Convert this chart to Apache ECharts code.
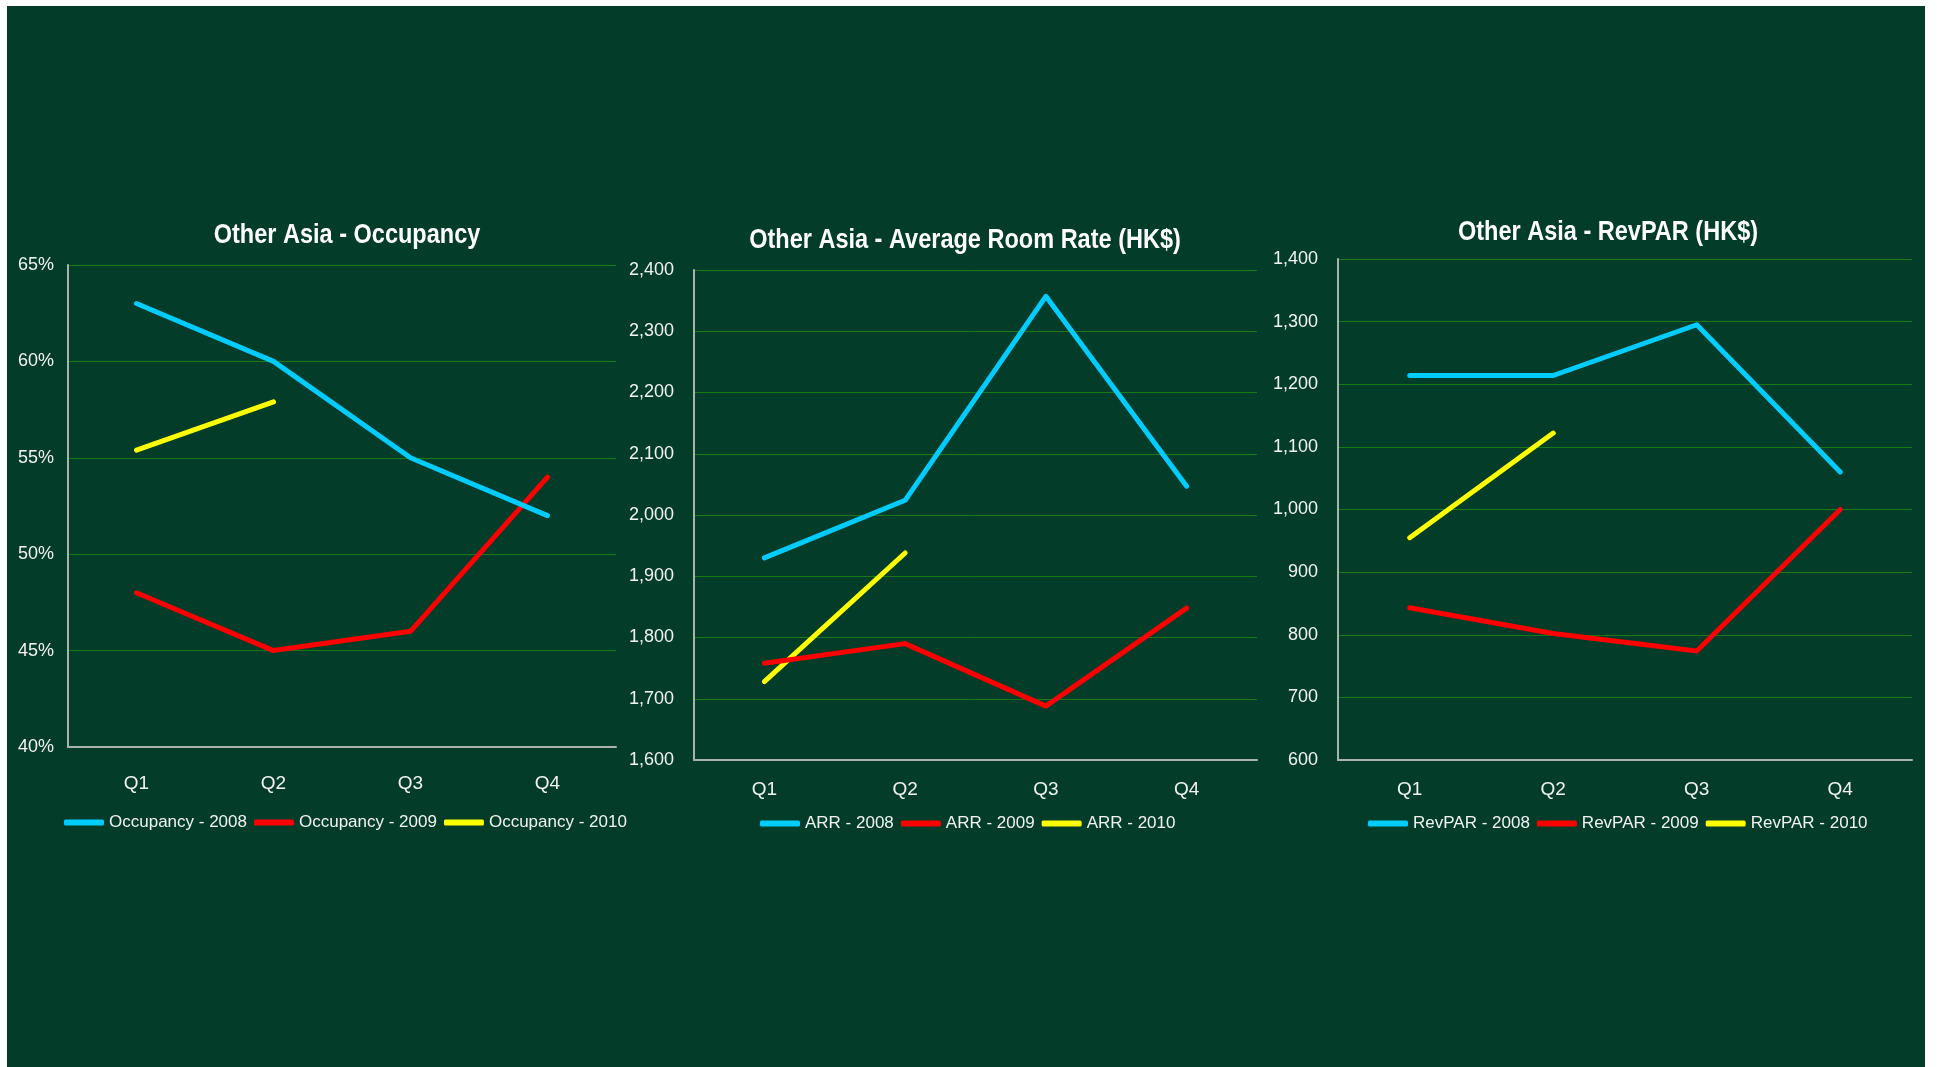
<!DOCTYPE html>
<html>
<head>
<meta charset="utf-8">
<style>
  html, body { margin: 0; padding: 0; background: #ffffff; }
  #frame { position: absolute; left: 7px; top: 6px; width: 1918px; height: 1061px; background: #033c29; }
  #chart { position: absolute; left: 0; top: 0; width: 1937px; height: 1067px; }
</style>
<script src="https://cdn.jsdelivr.net/npm/echarts@6/dist/echarts.min.js"></script>
</head>
<body>
<div id="frame"></div>
<div id="chart"></div>
<script>
// Quarterly hotel metrics, Other Asia
const quarters = ['Q1', 'Q2', 'Q3', 'Q4'];

const occ2008 = [63, 60, 55, 52];
const occ2009 = [48, 45, 46, 54];
const occ2010 = [55.4, 57.9];

const arr2008 = [1930, 2024, 2357, 2047];
const arr2009 = [1758, 1790, 1688, 1848];
const arr2010 = [1728, 1938];

const rev2008 = [1214, 1214, 1295, 1060];
const rev2009 = [843, 802, 774, 1000];
const rev2010 = [955, 1122];

const titles = [
  'Other Asia - Occupancy',
  'Other Asia - Average Room Rate (HK$)',
  'Other Asia - RevPAR (HK$)'
];
const seriesNames = [
  ['Occupancy - 2008', 'Occupancy - 2009', 'Occupancy - 2010'],
  ['ARR - 2008', 'ARR - 2009', 'ARR - 2010'],
  ['RevPAR - 2008', 'RevPAR - 2009', 'RevPAR - 2010']
];
const yRanges = [
  { min: 40, max: 65, interval: 5 },
  { min: 1600, max: 2400, interval: 100 },
  { min: 600, max: 1400, interval: 100 }
];
const seriesData = [
  [occ2008, occ2009, occ2010],
  [arr2008, arr2009, arr2010],
  [rev2008, rev2009, rev2010]
];

const COLORS = ['#00ccff', '#ff0000', '#ffff00'];
const FONT = '"Liberation Sans", Arial, sans-serif';
const TEXT = '#f2f2f2';

// panel geometry (plot rectangles)
const grids = [
  { left: 68, top: 265, width: 548, height: 482 },
  { left: 694, top: 270, width: 563, height: 490 },
  { left: 1338, top: 259, width: 574, height: 501 }
];
const titlePos = [
  { x: 347, y: 235 },
  { x: 965, y: 240 },
  { x: 1608, y: 232 }
];
const legendCenter = [
  { x: 345, y: 822 },
  { x: 968, y: 823 },
  { x: 1618, y: 823 }
];
const yLabelMargin = [14, 20, 20];
const xLabelMargin = [27, 20, 20];

const LEGEND_FONT = 17;
const LEGEND_ICON_W = 40;
const LEGEND_GAP = 7;

// measure a legend row so it can be centred under its panel
const measureCtx = document.createElement('canvas').getContext('2d');
measureCtx.font = LEGEND_FONT + 'px ' + FONT;
function legendWidth(names) {
  let w = 0;
  names.forEach((n, i) => {
    w += LEGEND_ICON_W + 5 + measureCtx.measureText(n).width;
    if (i > 0) w += LEGEND_GAP;
  });
  return w;
}

const fmtComma = v => v.toLocaleString('en-US');
const yFormatters = [v => v + '%', fmtComma, fmtComma];

const option = {
  animation: false,
  backgroundColor: 'transparent',
  // panel titles drawn in a narrow bold face
  graphic: titles.map((t, i) => ({
    type: 'text',
    x: titlePos[i].x,
    y: titlePos[i].y,
    scaleX: 0.84,
    style: {
      text: t,
      fill: '#ffffff',
      font: 'bold 28px ' + FONT,
      align: 'center',
      verticalAlign: 'middle',
      textAlign: 'center',
      textVerticalAlign: 'middle'
    }
  })),
  legend: seriesNames.map((names, i) => ({
    data: names,
    left: Math.round(legendCenter[i].x - legendWidth(names) / 2),
    top: legendCenter[i].y - 8,
    orient: 'horizontal',
    icon: 'roundRect',
    itemWidth: LEGEND_ICON_W,
    itemHeight: 6,
    itemGap: LEGEND_GAP,
    padding: 0,
    textStyle: { color: TEXT, fontFamily: FONT, fontSize: LEGEND_FONT }
  })),
  grid: grids.map(g => Object.assign({ containLabel: false }, g)),
  xAxis: grids.map((g, i) => ({
    type: 'category',
    gridIndex: i,
    data: quarters,
    boundaryGap: true,
    axisLine: { show: true, lineStyle: { color: '#a9b3ab', width: 2 } },
    axisTick: { show: false },
    splitLine: { show: false },
    axisLabel: { color: TEXT, fontFamily: FONT, fontSize: 19, margin: xLabelMargin[i] }
  })),
  yAxis: grids.map((g, i) => ({
    type: 'value',
    gridIndex: i,
    min: yRanges[i].min,
    max: yRanges[i].max,
    interval: yRanges[i].interval,
    axisLine: { show: true, lineStyle: { color: '#a9b3ab', width: 2 } },
    axisTick: { show: false },
    splitLine: { show: true, lineStyle: { color: '#137a17', width: 1 } },
    axisLabel: {
      color: TEXT, fontFamily: FONT, fontSize: 18, margin: yLabelMargin[i],
      formatter: yFormatters[i]
    }
  })),
  series: []
};

seriesData.forEach((group, gi) => {
  group.forEach((values, si) => {
    option.series.push({
      type: 'line',
      name: seriesNames[gi][si],
      xAxisIndex: gi,
      yAxisIndex: gi,
      data: values,
      showSymbol: false,
      symbol: 'none',
      color: COLORS[si],
      lineStyle: { color: COLORS[si], width: 5, cap: 'round', join: 'round' },
      z: 3 - si
    });
  });
});

const chart = echarts.init(document.getElementById('chart'), null, { renderer: 'canvas' });
chart.setOption(option);
</script>
</body>
</html>
